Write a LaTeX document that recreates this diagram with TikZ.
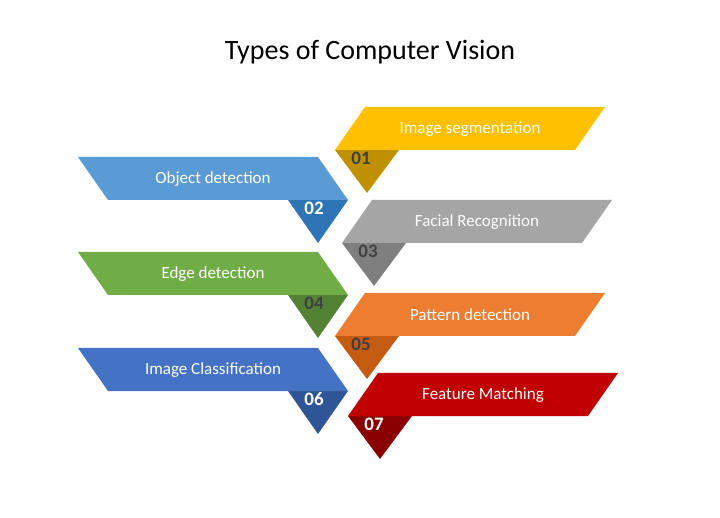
\documentclass[tikz,border=0pt]{standalone}
\usepackage{fontspec}
\setmainfont{Carlito}
\definecolor{cYel}{HTML}{FFC000}\definecolor{dYel}{HTML}{BF9000}
\definecolor{cBlu}{HTML}{5B9BD5}\definecolor{dBlu}{HTML}{2E75B6}
\definecolor{cGry}{HTML}{A5A5A5}\definecolor{dGry}{HTML}{7F7F7F}
\definecolor{cGrn}{HTML}{70AD47}\definecolor{dGrn}{HTML}{548235}
\definecolor{cOrg}{HTML}{ED7D31}\definecolor{dOrg}{HTML}{C55A11}
\definecolor{cNav}{HTML}{4472C4}\definecolor{dNav}{HTML}{2F5597}
\definecolor{cRed}{HTML}{C00000}\definecolor{dRed}{HTML}{8A0000}
\tikzset{
  lS/.style={text=white,font=\fontsize{17}{19}\selectfont},
  nS/.style={font=\bfseries\fontsize{19}{19}\selectfont},
}
% right band: #1 name, #2 top y, #3 top-left x, #4 colour, #5 dark, #6 text, #7 number, #8 number colour
\newcommand{\rband}[8]{
  \fill[#5] (#3-30,#2+43) -- ++(64,0) -- ++(-32,43) -- cycle;
  \fill[#4] (#3,#2) -- ++(240,0) -- ++(-30,43) -- ++(-240,0) -- cycle;
  \node[lS] (#1) at (#3+105,#2+22) {#6};
  \node[nS,text=#8] (#1n) at (#3-4,#2+51) {#7};
}
% left band
\newcommand{\lband}[8]{
  \fill[#5] (#3+210,#2+43) -- ++(60,0) -- ++(-30,43) -- cycle;
  \fill[#4] (#3,#2) -- ++(240,0) -- ++(30,43) -- ++(-240,0) -- cycle;
  \node[lS] (#1) at (#3+135,#2+22) {#6};
  \node[nS,text=#8] (#1n) at (#3+236,#2+51) {#7};
}
\begin{document}
\begin{tikzpicture}[x=1pt,y=-1pt]
  \useasboundingbox (0,0) rectangle (720,518);
  \node[font=\fontsize{28}{30}\selectfont] (title) at (370,52) {Types of Computer Vision};
  \rband{seg}{107}{365}{cYel}{dYel}{Image segmentation}{01}{black!75}
  \lband{obj}{157}{78}{cBlu}{dBlu}{Object detection}{02}{white}
  \rband{fac}{200}{372}{cGry}{dGry}{Facial Recognition}{03}{black!75}
  \lband{edg}{252}{78}{cGrn}{dGrn}{Edge detection}{04}{black!75}
  \rband{pat}{293}{365}{cOrg}{dOrg}{Pattern detection}{05}{black!75}
  \lband{cls}{348}{78}{cNav}{dNav}{Image Classification}{06}{white}
  \rband{fea}{373}{378}{cRed}{dRed}{Feature Matching}{07}{white}
\end{tikzpicture}
\end{document}
